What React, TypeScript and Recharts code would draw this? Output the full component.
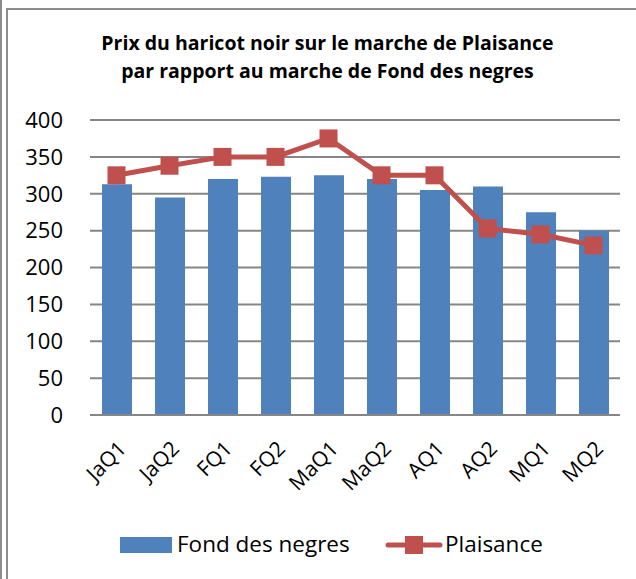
import React from 'react';
import { ComposedChart, Bar, Line, XAxis, YAxis, CartesianGrid } from 'recharts';

const periods = ['JaQ1', 'JaQ2', 'FQ1', 'FQ2', 'MaQ1', 'MaQ2', 'AQ1', 'AQ2', 'MQ1', 'MQ2'];
const fondDesNegres = [313, 295, 320, 323, 325, 320, 305, 310, 275, 250];
const plaisance = [325, 338, 350, 350, 375, 325, 325, 253, 245, 230];
const yTicks = [0, 50, 100, 150, 200, 250, 300, 350, 400];

const titleLines = [
  'Prix du haricot noir sur le marche de Plaisance',
  'par rapport au marche de Fond des negres',
];

const FONT = '"Open Sans", Lato, sans-serif';
const BLUE = '#4F81BD';
const RED = '#C0504D';

const chartData = periods.map((p, i) => ({
  period: p,
  fond: fondDesNegres[i],
  plaisance: plaisance[i],
}));

const SquareDot = (props: any) => {
  const { cx, cy } = props;
  if (cx == null || cy == null) return null;
  return <rect x={cx - 9} y={cy - 9} width={18} height={18} fill={RED} />;
};

const RotatedTick = ({ x, y, payload }: any) => {
  const ax = x + 11;
  const ay = y + 35;
  return (
    <text
      x={ax}
      y={ay}
      textAnchor="end"
      transform={`rotate(-45, ${ax}, ${ay})`}
      fill="#000"
      fontSize={21}
      fontFamily={FONT}
    >
      {payload.value}
    </text>
  );
};

export default function App() {
  return (
    <div
      style={{
        position: 'absolute',
        left: 0,
        top: 0,
        width: 636,
        height: 579,
        background: '#fff',
        fontFamily: FONT,
        overflow: 'hidden',
      }}
    >
      {/* frame */}
      <div style={{ position: 'absolute', left: 0, top: 0, width: 2, height: 579, background: '#8c8c8c' }} />
      <div style={{ position: 'absolute', left: 6, top: 8, width: 2, height: 571, background: '#8c8c8c' }} />
      <div style={{ position: 'absolute', left: 6, top: 8, width: 630, height: 2, background: '#8c8c8c' }} />

      {/* title */}
      <div
        style={{
          position: 'absolute',
          top: 29,
          left: 0,
          width: 655,
          textAlign: 'center',
          fontWeight: 'bold',
          fontSize: 19.5,
          lineHeight: '28px',
          color: '#000',
        }}
      >
        {titleLines.map((t) => (
          <div key={t}>{t}</div>
        ))}
      </div>

      <ComposedChart
        width={636}
        height={579}
        data={chartData}
        margin={{ top: 120, right: 16, left: 0, bottom: 104 }}
      >
        <CartesianGrid vertical={false} stroke="#868686" strokeWidth={2} />
        <XAxis
          dataKey="period"
          height={60}
          axisLine={{ stroke: '#868686', strokeWidth: 2 }}
          tickLine={false}
          tickSize={0}
          tickMargin={0}
          interval={0}
          tick={<RotatedTick />}
        />
        <YAxis
          width={90}
          domain={[0, 400]}
          ticks={yTicks}
          axisLine={false}
          tickLine={false}
          tickSize={0}
          tickMargin={27}
          tick={{ fill: '#000', fontSize: 22, fontFamily: FONT }}
        />
        <Bar dataKey="fond" name="Fond des negres" fill={BLUE} barSize={30} isAnimationActive={false} />
        <Line
          dataKey="plaisance"
          name="Plaisance"
          stroke={RED}
          strokeWidth={5}
          dot={<SquareDot />}
          activeDot={false}
          isAnimationActive={false}
        />
      </ComposedChart>

      {/* Legend */}
      <div style={{ position: 'absolute', left: 120, top: 537, width: 52, height: 16, background: BLUE }} />
      <div style={{ position: 'absolute', left: 177, top: 528, fontSize: 22.5, lineHeight: '32px', color: '#000', whiteSpace: 'nowrap' }}>
        Fond des negres
      </div>
      <svg width={58} height={20} style={{ position: 'absolute', left: 385, top: 535 }}>
        <line x1={3} y1={10} x2={55} y2={10} stroke={RED} strokeWidth={5} strokeLinecap="round" />
        <rect x={20} y={1} width={18} height={18} fill={RED} />
      </svg>
      <div style={{ position: 'absolute', left: 445, top: 528, fontSize: 22.5, lineHeight: '32px', color: '#000', whiteSpace: 'nowrap' }}>
        Plaisance
      </div>
    </div>
  );
}
